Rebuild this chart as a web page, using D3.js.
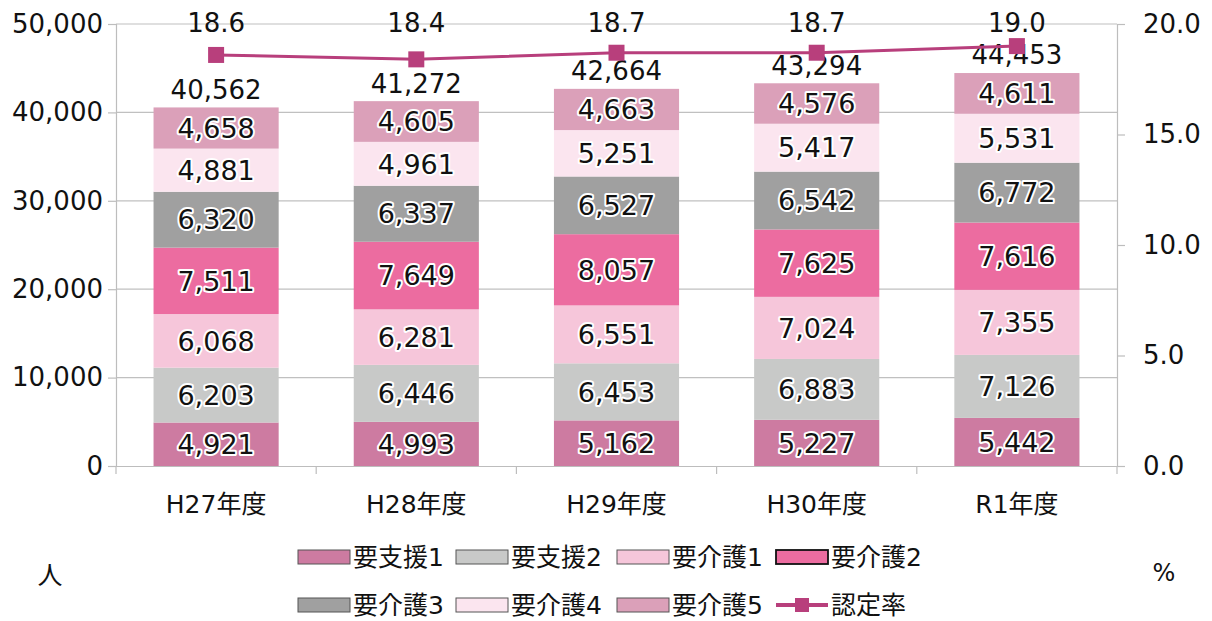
<!DOCTYPE html>
<html>
<head>
<meta charset="utf-8">
<script src="https://cdn.jsdelivr.net/npm/d3@7"></script>
<style>
  body { margin: 0; background: #fff; }
  svg text { font-family: "DejaVu Sans", "Noto Sans CJK JP", sans-serif; fill: #111; }
</style>
</head>
<body>
<svg id="chart"></svg>
<script>
const years = ["H27年度", "H28年度", "H29年度", "H30年度", "R1年度"];
const levels = ["要支援1", "要支援2", "要介護1", "要介護2", "要介護3", "要介護4", "要介護5"];
const shien1 = [4921, 4993, 5162, 5227, 5442];
const shien2 = [6203, 6446, 6453, 6883, 7126];
const kaigo1 = [6068, 6281, 6551, 7024, 7355];
const kaigo2 = [7511, 7649, 8057, 7625, 7616];
const kaigo3 = [6320, 6337, 6527, 6542, 6772];
const kaigo4 = [4881, 4961, 5251, 5417, 5531];
const kaigo5 = [4658, 4605, 4663, 4576, 4611];
const totals = [40562, 41272, 42664, 43294, 44453];
const rate = [18.6, 18.4, 18.7, 18.7, 19.0];
const leftTicks = [0, 10000, 20000, 30000, 40000, 50000];
const rightTicks = [0, 5, 10, 15, 20];

const colors = ["#cd7ba1", "#c8c9c8", "#f6c6da", "#ec6ca0", "#a0a0a0", "#fbe5ef", "#dba0b9"];
const lineColor = "#b83f7c";

const w = 1212;
const h = 621;
const plotLeft = 116, plotRight = 1117, plotTop = 24, plotBottom = 466;

const svg = d3.select("#chart").attr("width", w).attr("height", h);

const series = [shien1, shien2, kaigo1, kaigo2, kaigo3, kaigo4, kaigo5];
const rows = years.map((y, i) => {
  const r = { year: y };
  levels.forEach((l, j) => (r[l] = series[j][i]));
  return r;
});
const stacked = d3.stack().keys(levels)(rows);

const xScale = d3.scaleBand().domain(years).range([plotLeft, plotRight]).paddingInner(0.375).paddingOuter(0.1875);
const xBand = d3.scaleBand().domain(years).range([plotLeft, plotRight]);
const yScale = d3.scaleLinear().domain([0, 50000]).range([plotBottom, plotTop]);
const y2Scale = d3.scaleLinear().domain([0, 20]).range([plotBottom, plotTop]);

// gridlines
svg.append("g")
  .selectAll("line")
  .data(leftTicks.slice(1))
  .enter()
  .append("line")
  .attr("x1", plotLeft)
  .attr("x2", plotRight)
  .attr("y1", (d) => yScale(d))
  .attr("y2", (d) => yScale(d))
  .attr("stroke", "#c0c0c0")
  .attr("stroke-width", 1.2);

// axes
const yAxis = d3.axisLeft(yScale).tickValues(leftTicks).tickFormat(d3.format(",")).tickSize(8).tickPadding(5);
const gy = svg.append("g").attr("transform", "translate(" + plotLeft + ",0)").call(yAxis);
const y2Axis = d3.axisRight(y2Scale).tickValues(rightTicks).tickFormat(d3.format(".1f")).tickSize(8).tickPadding(18);
const gy2 = svg.append("g").attr("transform", "translate(" + plotRight + ",0)").call(y2Axis);
const xAxis = d3.axisBottom(xBand).tickSize(0).tickPadding(29);
const gx = svg.append("g").attr("transform", "translate(0," + plotBottom + ")").call(xAxis);

[gy, gy2, gx].forEach((g) => {
  g.selectAll("path, line").attr("stroke", "#bdbdbd").attr("stroke-width", 1.2);
  g.selectAll("text").style("font-size", "26px").attr("fill", "#111");
});
gx.selectAll("text").style("font-size", "25px");

// category boundary ticks
svg.append("g")
  .selectAll("line")
  .data(years.concat(["end"]))
  .enter()
  .append("line")
  .attr("x1", (d, i) => plotLeft + i * xBand.bandwidth())
  .attr("x2", (d, i) => plotLeft + i * xBand.bandwidth())
  .attr("y1", plotBottom)
  .attr("y2", plotBottom + 8)
  .attr("stroke", "#bdbdbd")
  .attr("stroke-width", 1.2);

// bars
const layers = svg.append("g")
  .selectAll("g")
  .data(stacked)
  .enter()
  .append("g")
  .attr("fill", (d, i) => colors[i]);

layers.selectAll("rect")
  .data((d) => d)
  .enter()
  .append("rect")
  .attr("x", (d) => xScale(d.data.year))
  .attr("width", xScale.bandwidth())
  .attr("y", (d) => yScale(d[1]))
  .attr("height", (d) => yScale(d[0]) - yScale(d[1]));

// segment labels
stacked.forEach((layer) => {
  svg.append("g")
    .selectAll("text")
    .data(layer)
    .enter()
    .append("text")
    .attr("x", (d) => xScale(d.data.year) + xScale.bandwidth() / 2)
    .attr("y", (d) => (yScale(d[0]) + yScale(d[1])) / 2)
    .attr("dy", "0.36em")
    .attr("text-anchor", "middle")
    .style("font-size", "27px")
    .style("paint-order", "stroke")
    .attr("stroke", "#fff")
    .attr("stroke-width", 4)
    .attr("stroke-linejoin", "round")
    .text((d) => d3.format(",")(d[1] - d[0]));
});

// totals
svg.append("g")
  .selectAll("text")
  .data(totals)
  .enter()
  .append("text")
  .attr("x", (d, i) => xScale(years[i]) + xScale.bandwidth() / 2)
  .attr("y", (d) => yScale(d) - 18)
  .attr("dy", "0.36em")
  .attr("text-anchor", "middle")
  .style("font-size", "26px")
  .text((d) => d3.format(",")(d));

// rate line
const xc = (i) => xScale(years[i]) + xScale.bandwidth() / 2;
const line = d3.line().x((d, i) => xc(i)).y((d) => y2Scale(d));
svg.append("path")
  .datum(rate)
  .attr("d", line)
  .attr("fill", "none")
  .attr("stroke", lineColor)
  .attr("stroke-width", 3);

svg.append("g")
  .selectAll("rect")
  .data(rate)
  .enter()
  .append("rect")
  .attr("x", (d, i) => xc(i) - 8)
  .attr("y", (d) => y2Scale(d) - 8)
  .attr("width", 16)
  .attr("height", 16)
  .attr("fill", lineColor);

// rate labels sit along the top of the plot
svg.append("g")
  .selectAll("text")
  .data(rate)
  .enter()
  .append("text")
  .attr("x", (d, i) => xc(i))
  .attr("y", y2Scale(20) - 1)
  .attr("dy", "0.36em")
  .attr("text-anchor", "middle")
  .style("font-size", "26px")
  .text((d) => d.toFixed(1));

// unit labels
svg.append("text").attr("x", 50).attr("y", 575).attr("dy", "0.36em").attr("text-anchor", "middle")
  .style("font-size", "25px").text("人");
svg.append("text").attr("x", 1164).attr("y", 572).attr("dy", "0.36em").attr("text-anchor", "middle")
  .style("font-size", "24px").text("%");

// legend
const legendItems = levels.map((l, i) => ({ name: l, color: colors[i], type: "rect" }))
  .concat([{ name: "認定率", color: lineColor, type: "line" }]);
const legendX = [298, 456, 617, 776];
const legendY = [557, 605];

const legend = svg.append("g").attr("id", "legend");
legendItems.forEach((item, i) => {
  const lx = legendX[i % 4];
  const ly = legendY[Math.floor(i / 4)];
  if (item.type === "rect") {
    legend.append("rect")
      .attr("x", lx)
      .attr("y", ly - 7)
      .attr("width", 52)
      .attr("height", 14)
      .attr("fill", item.color)
      .attr("stroke", item.name === "要介護2" ? "#111" : "#555")
      .attr("stroke-width", item.name === "要介護2" ? 1.8 : 1);
  } else {
    legend.append("line")
      .attr("x1", lx)
      .attr("x2", lx + 52)
      .attr("y1", ly)
      .attr("y2", ly)
      .attr("stroke", item.color)
      .attr("stroke-width", 4);
    legend.append("rect")
      .attr("x", lx + 26 - 7)
      .attr("y", ly - 7)
      .attr("width", 14)
      .attr("height", 14)
      .attr("fill", item.color);
  }
  legend.append("text")
    .attr("x", lx + 55)
    .attr("y", ly)
    .attr("dy", "0.36em")
    .style("font-size", "25px")
    .text(item.name);
});
</script>
</body>
</html>
